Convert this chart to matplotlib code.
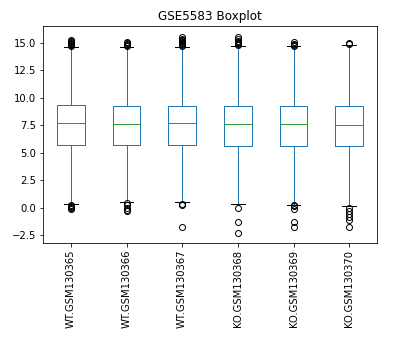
import matplotlib
matplotlib.use("Agg")
import matplotlib.pyplot as plt

labels = ["WT.GSM130365", "WT.GSM130366", "WT.GSM130367",
          "KO.GSM130368", "KO.GSM130369", "KO.GSM130370"]
q1 = [5.72, 5.72, 5.72, 5.63, 5.63, 5.63]
med = [7.70, 7.61, 7.70, 7.61, 7.61, 7.52]
q3 = [9.31, 9.28, 9.28, 9.28, 9.28, 9.28]
whislo = [0.31, 0.49, 0.49, 0.31, 0.22, 0.13]
whishi = [14.63, 14.63, 14.63, 14.69, 14.69, 14.81]
fliers = [
    [14.7, 14.8, 14.9, 15.0, 15.1, 15.2, 15.3, 0.25, 0.15, 0.05, -0.05, -0.15],
    [14.7, 14.8, 14.9, 15.0, 15.1, 0.4, 0.2, 0.0, -0.2, -0.35],
    [14.7, 14.8, 14.9, 15.0, 15.1, 15.2, 15.3, 15.4, 15.55, 0.3, 0.25, -1.78],
    [14.8, 14.9, 15.0, 15.1, 15.2, 15.35, 15.55, 0.0, -1.32, -2.32],
    [14.75, 14.85, 14.95, 15.05, 0.2, 0.1, -0.1, -1.3, -1.75],
    [14.9, 15.0, 0.0, -0.3, -0.6, -0.9, -1.1, -1.75],
]

stats = []
for i, lab in enumerate(labels):
    stats.append(dict(label=lab, q1=q1[i], med=med[i], q3=q3[i],
                      whislo=whislo[i], whishi=whishi[i], fliers=fliers[i]))

fig = plt.figure(figsize=(402/72, 347/72), dpi=72)
ax = fig.add_axes([43/402, 1 - 243/347, 334/402, 217/347])
ax.bxp(stats, widths=0.5,
       boxprops=dict(color="C0"), whiskerprops=dict(color="C0"),
       medianprops=dict(color="C2"), capprops=dict(color="k"),
       flierprops=dict(marker="o", markerfacecolor="none",
                       markeredgecolor="k", markersize=6))
ax.set_xlim(0.5, 6.5)
ax.set_ylim(-3.23, 16.55)
ax.set_yticks([-2.5, 0.0, 2.5, 5.0, 7.5, 10.0, 12.5, 15.0])
ax.set_xticklabels(labels, rotation=90, fontsize=10)
ax.tick_params(axis="y", labelsize=10)
ax.set_title("GSE5583 Boxplot", fontsize=12)
fig.savefig("out.png", dpi=72)
